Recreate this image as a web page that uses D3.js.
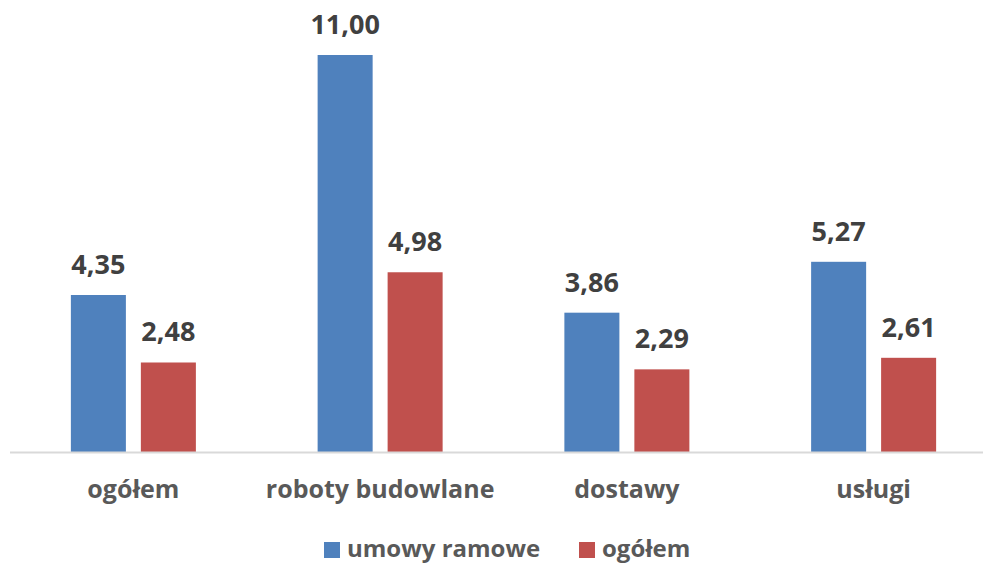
<!DOCTYPE html>
<html>
<head>
<meta charset="utf-8">
<script src="https://cdn.jsdelivr.net/npm/d3@7"></script>
<style>
  body { margin: 0; background: #fff; }
  text { font-family: "Open Sans", sans-serif; font-weight: bold; }
</style>
</head>
<body>
<div id="chart"></div>
<script>
// categories and series
const categories = ["ogółem", "roboty budowlane", "dostawy", "usługi"];
const seriesNames = ["umowy ramowe", "ogółem"];
const ramowe = [4.35, 11.00, 3.86, 5.27];
const ogolem = [2.48, 4.98, 2.29, 2.61];
const colors = ["#4f81bd", "#c0504d"];

const width = 983, height = 563;
const baseY = 452;

const svg = d3.select("#chart").append("svg")
    .attr("width", width)
    .attr("height", height);

const x = d3.scaleBand().domain(categories).range([10, 997]);
const x1 = d3.scaleBand().domain(seriesNames).range([0, 125]).paddingInner(0.214);
const y = d3.scaleLinear().domain([0, 11]).range([baseY, 55]);

const rows = [];
categories.forEach((c, i) => {
    rows.push({ cat: c, s: seriesNames[0], v: ramowe[i], col: colors[0] });
    rows.push({ cat: c, s: seriesNames[1], v: ogolem[i], col: colors[1] });
});

const gx = c => x(c) + (x.bandwidth() - 125) / 2;

svg.selectAll(".bar")
    .data(rows)
    .enter().append("rect")
    .attr("x", d => gx(d.cat) + x1(d.s))
    .attr("y", d => y(d.v))
    .attr("width", x1.bandwidth())
    .attr("height", d => baseY - y(d.v))
    .attr("fill", d => d.col);

// value labels
svg.selectAll(".lbl")
    .data(rows)
    .enter().append("text")
    .attr("x", d => gx(d.cat) + x1(d.s) + x1.bandwidth() / 2)
    .attr("y", d => y(d.v) - 21)
    .attr("text-anchor", "middle")
    .attr("font-size", 27)
    .attr("fill", "#404040")
    .text(d => d.v.toFixed(2).replace(".", ","));

// axis line
svg.append("line")
    .attr("x1", 10).attr("x2", 983)
    .attr("y1", baseY + 0.5).attr("y2", baseY + 0.5)
    .attr("stroke", "#d9d9d9").attr("stroke-width", 2);

// category labels
svg.selectAll(".cat")
    .data(categories)
    .enter().append("text")
    .attr("x", d => x(d) + x.bandwidth() / 2)
    .attr("y", 498)
    .attr("text-anchor", "middle")
    .attr("font-size", 25)
    .attr("fill", "#595959")
    .text(d => d);

// legend
const legX = [324, 579];
seriesNames.forEach((s, i) => {
    svg.append("rect")
        .attr("x", legX[i]).attr("y", 542)
        .attr("width", 16).attr("height", 16)
        .attr("fill", colors[i]);
    svg.append("text")
        .attr("x", legX[i] + 23).attr("y", 557)
        .attr("font-size", 24)
        .attr("fill", "#595959")
        .text(s);
});
</script>
</body>
</html>
